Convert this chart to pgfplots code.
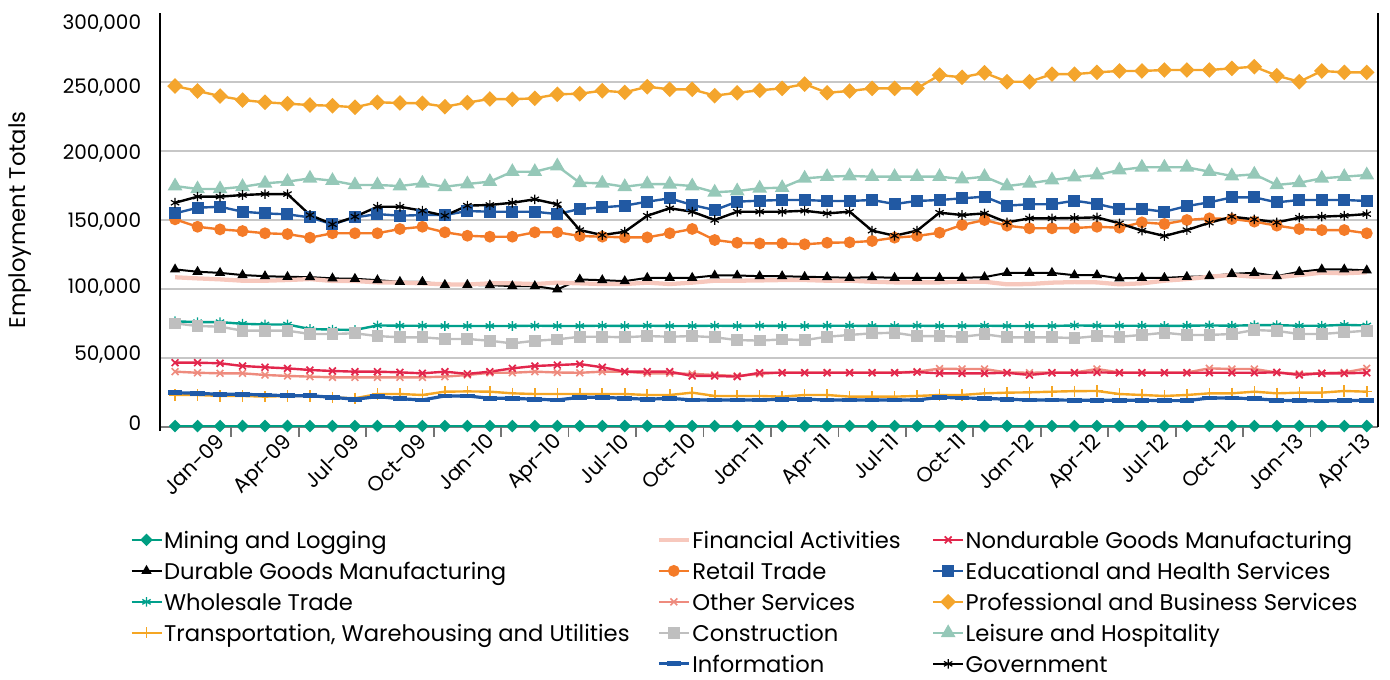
\documentclass[border=0pt]{standalone}
\usepackage{pgfplots}
\pgfplotsset{compat=1.18}
\usepackage{pgfplotstable}
\usepackage{fontspec}
\setmainfont{Poppins}
\definecolor{cMin}{HTML}{009E82}
\definecolor{cWho}{HTML}{00A08C}
\definecolor{cTra}{HTML}{F5A623}
\definecolor{cFin}{HTML}{F7C8BD}
\definecolor{cRet}{HTML}{F47B28}
\definecolor{cOth}{HTML}{EE8B7E}
\definecolor{cCon}{HTML}{BFBFBF}
\definecolor{cInf}{HTML}{1F5AA8}
\definecolor{cNon}{HTML}{E2264C}
\definecolor{cEdu}{HTML}{2159A3}
\definecolor{cPro}{HTML}{F4A52C}
\definecolor{cLei}{HTML}{95C8B8}

\pgfplotstableread{
x mining durable wholesale transp financial retail other construction information nondurable educ prof leisure government
0 700 114200 76600 23200 108500 150500 40100 75100 24900 46600 154800 247100 174600 162500
1 700 112500 76000 23200 107700 145100 39300 73200 24400 46600 158900 243500 172500 166900
2 700 111700 76000 22500 107000 143200 38900 72700 23700 46200 159600 239800 172500 166900
3 700 110100 74800 22500 106000 142000 38900 69800 23700 44200 156000 236900 174100 168100
4 700 109300 74300 22000 106000 140400 37700 69800 23200 43300 154800 235300 176600 168800
5 700 108800 74300 22500 106500 139800 37000 69800 22700 42500 154100 234300 177800 168800
6 700 108600 71000 22500 107200 137200 36500 67400 22700 41300 151900 233300 180200 153600
7 700 107700 70600 21500 105800 140400 36000 67400 21500 40600 146900 232800 178500 146900
8 700 107400 70300 20800 105800 140400 36000 67900 20100 40100 151900 231700 175400 152400
9 700 106400 73600 23900 104800 140400 36000 65900 22000 40100 154300 235300 175400 159600
10 700 105200 73400 23900 104600 143500 36000 65000 20500 39600 153100 234800 174600 159600
11 700 105200 73400 23200 104100 145100 36000 65000 19600 38900 153600 234600 176600 156700
12 700 103000 73200 25600 103400 141100 36500 63800 22500 40100 153600 232100 174100 153100
13 700 103000 73200 25800 103200 138600 37700 63800 22500 38500 156500 235100 176100 160400
14 700 102800 73200 25600 104100 137900 39300 62500 20800 40100 156000 237700 177800 160900
15 700 102100 73200 24400 104100 137900 39300 60600 20800 42500 156000 237500 185000 162500
16 700 102100 73400 23900 103600 141100 40100 62500 20100 44200 156000 238200 185000 165000
17 700 99700 73200 23900 104600 141100 39500 63500 19600 44900 154300 241100 189100 161400
18 700 106900 73200 23900 104100 138400 39300 65400 21500 45600 158000 241500 177000 142700
19 700 106400 73400 23900 103600 137900 40100 65400 21500 43300 159200 243700 176600 139100
20 700 105700 73200 23900 103600 137400 40100 65000 20800 40100 160400 242500 174100 141500
21 700 108100 73400 23200 104600 137400 38900 65900 20100 40100 163300 246600 176100 153100
22 700 108100 73200 23200 103600 140400 38900 65400 20800 40100 165700 244700 175900 158500
23 700 108100 73200 24900 104600 143500 38500 65900 19600 37000 160900 244700 174600 156000
24 700 109800 73400 22500 106000 135500 37700 65000 19600 37000 157200 240100 170100 150000
25 700 109800 73200 22500 106000 133500 37000 63000 19600 36500 163300 242200 171000 156000
26 700 109300 73400 22500 106200 133000 38500 62600 19600 39300 164000 244000 173000 156000
27 700 109300 73200 22000 106500 133100 39500 63500 20100 39300 164500 245400 173400 156000
28 700 108800 73200 23200 106500 132400 39500 63000 20100 39300 164500 248500 180200 156700
29 700 108600 73400 23200 106000 133500 39500 65400 19600 39300 163800 242200 181400 154800
30 700 108100 73400 22000 106000 133800 39500 66700 19600 39300 163800 243500 181900 156000
31 700 108600 73200 22000 105300 134800 39500 67900 19600 39300 164500 245400 181400 142300
32 700 108100 73200 22000 104800 137200 39500 68300 19600 39300 161600 245400 181400 138600
33 700 108100 73400 22500 104800 138400 40100 65900 19600 39800 163800 245400 181400 142300
34 700 108100 73200 23200 104800 140800 42300 65900 21500 38900 164500 255000 181400 155300
35 700 108100 73200 23200 105300 146400 42000 65400 21000 38900 165700 253400 179700 153600
36 700 108600 73400 24400 105300 150000 42000 67200 20800 38900 166900 256700 181400 154800
37 700 111700 73200 24900 103400 145900 39500 65000 20100 39300 160400 250200 174600 148300
38 700 111700 73200 25100 103600 144000 39300 65000 19600 37700 161400 250200 176600 151200
39 700 111700 73200 25600 104600 144000 39500 65000 19600 39300 161400 255700 179000 151200
40 700 110000 73600 26000 105000 144200 39500 64400 19400 39300 164000 255700 181000 151500
41 700 110100 73400 26100 104800 145100 42000 65900 19400 39600 161600 257000 182600 151900
42 700 107700 73400 23900 103400 144400 39500 65400 19400 39300 158000 258000 186200 147600
43 700 108100 73400 23200 104100 148300 39500 66700 19400 39300 158000 258000 188200 142300
44 700 108100 73200 22500 106000 147100 39500 68300 19100 39300 156000 258700 188200 138400
45 700 108800 73400 23200 107200 150000 39500 66700 19100 39300 160100 258700 188200 142700
46 700 109300 73600 24400 108900 151200 42500 66700 21000 39300 162800 258700 185000 148000
47 700 111000 73400 24400 110100 150700 42000 67400 21000 39300 166400 259900 181900 152400
48 700 111700 73800 25600 108900 148800 42000 70300 20500 39300 166400 261100 183100 150500
49 700 109300 73800 24400 108500 145900 39500 69600 19400 39600 162800 254600 175400 148300
50 700 112500 73400 24900 110100 143500 38500 67400 19100 37700 164500 250200 177000 151700
51 700 114200 73400 24900 111800 142700 39000 67400 18900 38900 164500 258000 180200 152400
52 700 114200 74000 26100 111400 142700 39500 68600 19100 38900 164500 257000 181400 153100
53 700 113500 73600 25600 112100 140400 42500 69800 19400 39300 163800 257000 182600 154300
}\datatable

\pgfplotsset{
  sMin/.style={color=cMin, line width=1.6pt, mark=diamond*, mark size=3.6pt, mark options={solid, xscale=1.33}},
  sDur/.style={color=black, line width=1.5pt, mark=triangle*, mark size=3pt, mark options={solid}},
  sWho/.style={color=cWho, line width=1.8pt, mark=asterisk, mark size=3.6pt, mark options={solid, line width=1pt}},
  sTra/.style={color=cTra, line width=1.8pt, mark=+, mark size=4.2pt, mark options={solid, line width=1.2pt}},
  sFin/.style={color=cFin, line width=3.2pt, mark=none},
  sRet/.style={color=cRet, line width=1.8pt, mark=*, mark size=3.5pt, mark options={solid}},
  sOth/.style={color=cOth, line width=1.8pt, mark=x, mark size=3.6pt, mark options={solid, line width=1.2pt}},
  sCon/.style={color=cCon, line width=1.8pt, mark=square*, mark size=3.5pt, mark options={solid}},
  sInf/.style={color=cInf, line width=2.4pt, mark=-, mark size=5.5pt, mark options={solid, line width=3.6pt}},
  sNon/.style={color=cNon, line width=1.8pt, mark=x, mark size=3.6pt, mark options={solid, line width=1.3pt}},
  sEdu/.style={color=cEdu, line width=1.8pt, mark=square*, mark size=3.6pt, mark options={solid}},
  sPro/.style={color=cPro, line width=1.8pt, mark=diamond*, mark size=4.6pt, mark options={solid, xscale=1.33}},
  sLei/.style={color=cLei, line width=1.8pt, mark=triangle*, mark size=4.6pt, mark options={solid}},
  sGov/.style={color=black, line width=1.8pt, mark=asterisk, mark size=3.6pt, mark options={solid, line width=0.9pt}},
}

\newcommand{\ca}[1]{\makebox[370.5pt][l]{\hspace{1pt}#1}}
\newcommand{\cb}[1]{\makebox[180.75pt][l]{\hspace{1pt}#1}}
\newcommand{\cc}[1]{\makebox[300pt][l]{\hspace{1pt}#1}}
\newcommand{\yl}[2]{\raisebox{#1}[\height][\depth]{#2}}

\begin{document}
\begin{tikzpicture}
\useasboundingbox (-120pt,-189pt) rectangle (922.5pt,320.25pt);
\begin{axis}[
  at={(0pt,0pt)}, anchor=south west,
  scale only axis, width=913.5pt, height=310.5pt,
  xmin=-0.67, xmax=53.5, ymin=0, ymax=300000,
  clip=false,
  axis line style={draw=none},
  font=\fontsize{17}{20}\selectfont,
  tick label style={font=\fontsize{15}{18}\selectfont},
  scaled y ticks=false,
  ytick={0,50000,100000,150000,200000,250000},
  yticklabels={{\yl{3.2pt}{0}},{\yl{2.25pt}{50,000}},{\yl{0.75pt}{100,000}},{\yl{-1.5pt}{150,000}},{\yl{-2pt}{200,000}},{\yl{-4.2pt}{250,000}}},
  extra y ticks={300000},
  extra y tick labels={{\yl{-7.9pt}{300,000}}},
  extra y tick style={grid=none},
  ymajorgrids,
  grid style={line width=1.5pt, color=black!22},
  major tick length=0pt,
  xtick pos=left,
  ytick pos=left,
  yticklabel style={anchor=east, inner sep=0pt, xshift=-14pt},
  xtick={2,5,...,53},
  xticklabels={Jan-09,Apr-09,Jul-09,Oct-09,Jan-10,Apr-10,Jul-10,Oct-10,Jan-11,Apr-11,Jul-11,Oct-11,Jan-12,Apr-12,Jul-12,Oct-12,Jan-13,Apr-13},
  xticklabel style={xshift=-4pt, yshift=-3.5pt, rotate=45, anchor=north east, inner sep=0pt, font=\fontsize{15.5}{18}\selectfont},
  ylabel={Employment Totals},
  every axis y label/.style={at={(axis description cs:-0.115,0.5)}, rotate=90, anchor=center},
  legend columns=3,
  legend cell align=left,
  legend image code/.code={\draw[mark repeat=2,mark phase=2,#1] plot coordinates {(0pt,0pt)(11.25pt,0pt)(22.5pt,0pt)};},
  legend style={at={(axis description cs:-0.0246,-0.2446)}, anchor=north west,
    draw=none, fill=none, inner sep=0pt, column sep=0pt, row sep=6.25pt,
    nodes={inner sep=0pt, text height=15pt, text depth=2pt},
    font=\fontsize{17}{20}\selectfont},
]
\draw[color=black!50, line width=1.5pt] (rel axis cs:0,0) -- (rel axis cs:1,0);
\draw[black, line width=1.8pt] (rel axis cs:0,-0.01) -- (rel axis cs:0,1);
\draw[black, line width=1.5pt] (rel axis cs:1,0) -- (rel axis cs:1,1);
\draw[color=black!55, line width=1.3pt]
  (axis cs:2.5,0) -- (axis cs:2.5,-7000)
  (axis cs:5.5,0) -- (axis cs:5.5,-7000)
  (axis cs:8.5,0) -- (axis cs:8.5,-7000)
  (axis cs:11.5,0) -- (axis cs:11.5,-7000)
  (axis cs:14.5,0) -- (axis cs:14.5,-7000)
  (axis cs:17.5,0) -- (axis cs:17.5,-7000)
  (axis cs:20.5,0) -- (axis cs:20.5,-7000)
  (axis cs:23.5,0) -- (axis cs:23.5,-7000)
  (axis cs:26.5,0) -- (axis cs:26.5,-7000)
  (axis cs:29.5,0) -- (axis cs:29.5,-7000)
  (axis cs:32.5,0) -- (axis cs:32.5,-7000)
  (axis cs:35.5,0) -- (axis cs:35.5,-7000)
  (axis cs:38.5,0) -- (axis cs:38.5,-7000)
  (axis cs:41.5,0) -- (axis cs:41.5,-7000)
  (axis cs:44.5,0) -- (axis cs:44.5,-7000)
  (axis cs:47.5,0) -- (axis cs:47.5,-7000)
  (axis cs:50.5,0) -- (axis cs:50.5,-7000);

\addplot[sMin, forget plot] table[x=x, y=mining] {\datatable};
\addplot[sDur, forget plot] table[x=x, y=durable] {\datatable};
\addplot[sWho, forget plot] table[x=x, y=wholesale] {\datatable};
\addplot[sTra, forget plot] table[x=x, y=transp] {\datatable};
\addplot[sFin, forget plot] table[x=x, y=financial] {\datatable};
\addplot[sRet, forget plot] table[x=x, y=retail] {\datatable};
\addplot[sOth, forget plot] table[x=x, y=other] {\datatable};
\addplot[sCon, forget plot] table[x=x, y=construction] {\datatable};
\addplot[sInf, forget plot] table[x=x, y=information] {\datatable};
\addplot[sNon, forget plot] table[x=x, y=nondurable] {\datatable};
\addplot[sEdu, forget plot] table[x=x, y=educ] {\datatable};
\addplot[sPro, forget plot] table[x=x, y=prof] {\datatable};
\addplot[sLei, forget plot] table[x=x, y=leisure] {\datatable};
\addplot[sGov, forget plot] table[x=x, y=government] {\datatable};

\addlegendimage{sMin}\addlegendentry{\ca{Mining and Logging}}
\addlegendimage{sFin}\addlegendentry{\cb{Financial Activities}}
\addlegendimage{sNon}\addlegendentry{\cc{Nondurable Goods Manufacturing}}
\addlegendimage{sDur}\addlegendentry{\ca{Durable Goods Manufacturing}}
\addlegendimage{sRet}\addlegendentry{\cb{Retail Trade}}
\addlegendimage{sEdu}\addlegendentry{\cc{Educational and Health Services}}
\addlegendimage{sWho}\addlegendentry{\ca{Wholesale Trade}}
\addlegendimage{sOth}\addlegendentry{\cb{Other Services}}
\addlegendimage{sPro}\addlegendentry{\cc{Professional and Business Services}}
\addlegendimage{sTra}\addlegendentry{\ca{Transportation, Warehousing and Utilities}}
\addlegendimage{sCon}\addlegendentry{\cb{Construction}}
\addlegendimage{sLei}\addlegendentry{\cc{Leisure and Hospitality}}
\addlegendimage{empty legend}\addlegendentry{\ca{}}
\addlegendimage{sInf}\addlegendentry{\cb{Information}}
\addlegendimage{sGov}\addlegendentry{\cc{Government}}
\end{axis}
\end{tikzpicture}
\end{document}
